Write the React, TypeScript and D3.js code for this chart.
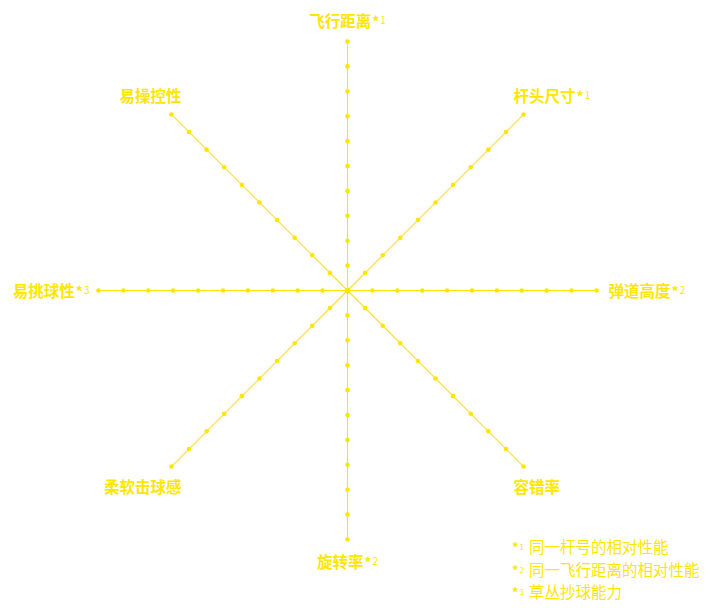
import * as d3 from "d3";

// axis names, clockwise from the top
const axes = ["飞行距离", "杆头尺寸", "弹道高度", "容错率", "旋转率", "柔软击球感", "易挑球性", "易操控性"];
const axisNotes = ["1", "1", "2", "", "2", "", "3", ""];
const tickSteps = [0, 1, 2, 3, 4, 5, 6, 7, 8, 9, 10];
const notes = ["1", "2", "3"];
const noteTexts = ["同一杆号的相对性能", "同一飞行距离的相对性能", "草丛抄球能力"];

const width = 712;
const height = 608;
const cx = 347.5;
const cy = 290.5;
const radius = 249;
const yellow = "#FFE600";
const font = "'Noto Sans CJK SC', 'Noto Sans', sans-serif";

export default function App() {
  const r = d3.scaleLinear().domain([0, 10]).range([0, radius]);
  const angle = d3.scaleLinear().domain([0, axes.length]).range([0, 2 * Math.PI]);

  const pt = (i: number, v: number) => {
    const a = angle(i);
    return [cx + Math.sin(a) * r(v), cy - Math.cos(a) * r(v)];
  };

  const labelPos = (i: number) => {
    const [x, y] = pt(i, 10);
    const s = Math.sin(angle(i));
    const c = Math.cos(angle(i));
    if (Math.abs(s) < 0.01) return { x, y: c > 0 ? y - 15 : y + 28, anchor: "middle" };
    if (Math.abs(c) < 0.01) return { x: s > 0 ? x + 12 : x - 9, y: y + 6, anchor: s > 0 ? "start" : "end" };
    return {
      x: s > 0 ? x - 10 : x + 10,
      y: c > 0 ? y - 12 : y + 26,
      anchor: s > 0 ? "start" : "end",
    };
  };

  return (
    <svg width={width} height={height} style={{ display: "block", margin: -8 }} fontFamily={font}>
      {axes.map((name, i) => {
        const [x2, y2] = pt(i, 10);
        return (
          <g key={name}>
            <line x1={cx} y1={cy} x2={x2} y2={y2} stroke={yellow} strokeWidth={1.1} />
            {tickSteps.map((t) => {
              const [x, y] = pt(i, t);
              return <circle key={t} cx={x} cy={y} r={2.3} fill={yellow} />;
            })}
          </g>
        );
      })}
      {axes.map((name, i) => {
        const p = labelPos(i);
        return (
          <text key={name} x={p.x} y={p.y} textAnchor={p.anchor} fill={yellow} fontSize={15.5} fontWeight="bold">
            {name}
            {axisNotes[i] && (
              <>
                <tspan fontSize={14} dx={1}>*</tspan>
                <tspan fontSize={10} fontWeight="normal" dx={1} dy={-3}>{axisNotes[i]}</tspan>
              </>
            )}
          </text>
        );
      })}
      {notes.map((n, i) => (
        <text key={n} x={512} y={553 + i * 22.5} fill={yellow} fontSize={15.5}>
          <tspan fontSize={13} fontWeight="bold" dy={-1}>*</tspan>
          <tspan fontSize={8} dx={1} dy={-2}>{n}</tspan>
          <tspan x={529} dy={3}>{noteTexts[i]}</tspan>
        </text>
      ))}
    </svg>
  );
}
